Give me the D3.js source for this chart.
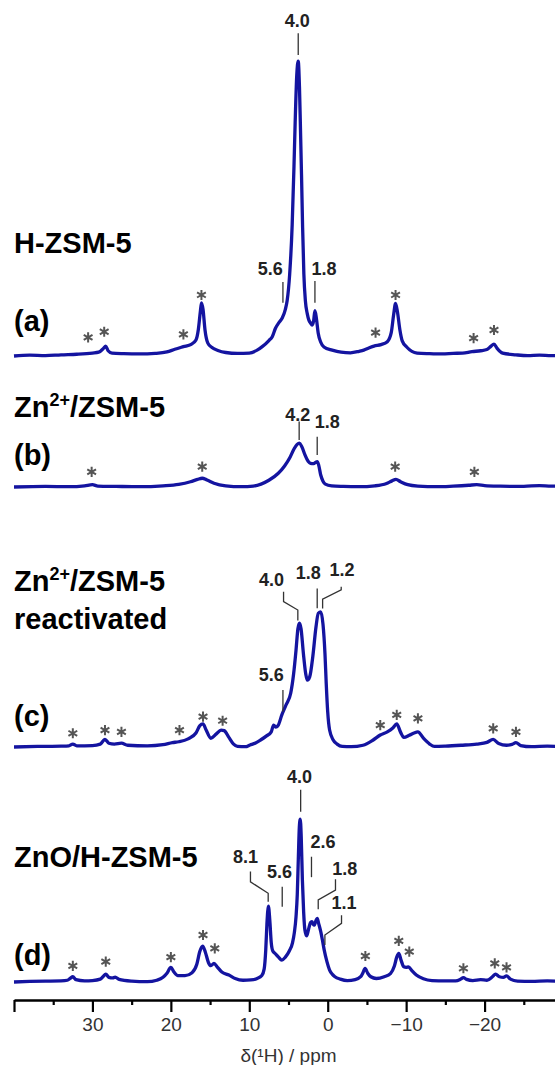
<!DOCTYPE html>
<html>
<head>
<meta charset="utf-8">
<script src="https://cdn.jsdelivr.net/npm/d3@7"></script>
<style>
  body { margin: 0; background: #fff; }
  text { font-family: "Liberation Sans", Arial, sans-serif; }
</style>
</head>
<body>
<div id="chart"></div>
<script>
// axis ticks (ppm)
const xTicks = [40, 30, 20, 10, 0, -10, -20, -30];
const xMinorTicks = [35, 25, 15, 5, -5, -15, -25];

// spectra: [ppm, intensity] (a.u., H-ZSM-5 main peak ~100)
const specA = [[40,0],[38,0.3],[36,0.1],[34,0.4],[32,0.6],[30,1.0],[29.2,1.3],[28.6,2.6],[28.3,3.4],[28.0,1.8],[27.5,1.0],[26,0.8],[24,0.7],[22,0.9],[20.5,1.4],[19.5,2.3],[18.4,3.2],[17.4,4.0],[16.8,5.5],[16.5,9],[16.25,15],[16.1,18.2],[15.9,16],[15.65,9],[15.3,4.5],[14.8,3.0],[14,1.9],[13,1.2],[11.5,0.9],[10,1.0],[9,2.0],[8.35,3.2],[7.5,5.3],[7.07,6.6],[6.66,9.5],[6.2,11.5],[5.8,13],[5.4,16],[5.17,19],[4.85,28],[4.53,45],[4.3,65],[4.15,80],[3.95,96],[3.76,101],[3.6,92],[3.45,75],[3.34,62],[3.2,44],[3.04,28],[2.85,19],[2.61,14.5],[2.4,12.3],[2.19,11.3],[1.98,10.6],[1.8,12],[1.63,15.5],[1.45,13],[1.21,7.8],[0.9,4.8],[0.48,3.1],[-0.57,2.0],[-1.7,1.3],[-2.9,1.1],[-4.0,1.6],[-4.6,2.0],[-5.3,2.8],[-5.9,3.4],[-6.8,3.9],[-7.6,4.9],[-8.1,8],[-8.4,14],[-8.65,18],[-8.9,15],[-9.2,9],[-9.5,5.2],[-10.1,3.0],[-11.4,1.0],[-13,0.8],[-14.6,0.7],[-16,0.9],[-17.2,1.0],[-18.4,1.5],[-19.5,1.8],[-20.3,2.2],[-20.8,3.3],[-21.2,4.1],[-21.6,2.6],[-22.3,1.0],[-24,0.4],[-25.5,0.1],[-27,0.3],[-28.5,0.1],[-30,0.2]];
const specB = [[40,0],[36,0.2],[33,0.1],[31,0.4],[30,0.8],[29.3,0.3],[27,0.2],[24,0.1],[21,0.4],[19,0.9],[17.5,1.8],[16.6,2.6],[16.0,3.0],[15.4,2.4],[14.5,1.3],[13,0.4],[11,0.1],[9.5,0.3],[8.5,1.0],[7.5,2.3],[6.3,4.7],[5.5,7.2],[4.8,10.2],[4.3,13],[3.9,14.6],[3.6,15.0],[3.3,13.8],[2.9,11],[2.5,8.8],[2.2,8.1],[1.8,8.0],[1.5,8.5],[1.34,8.7],[1.15,7.5],[0.9,4.2],[0.6,2.0],[0.3,1.0],[-0.5,0.4],[-2,0.2],[-4,0.1],[-6,0.4],[-7.5,1.2],[-8.2,2.1],[-8.7,2.6],[-9.3,1.8],[-10.2,0.8],[-11.5,0.3],[-14,0.1],[-16,0.3],[-18,0.6],[-19,0.8],[-20,0.5],[-22,0.3],[-25,0.2],[-27,0.5],[-28.5,0.3],[-30,0.3]];
const specC = [[40,0],[37,0.2],[34,0.3],[33,0.4],[32.5,1.0],[32,0.4],[30,0.5],[29,1.0],[28.4,2.6],[27.9,1.3],[27.2,1.0],[26.3,1.3],[25.5,0.6],[23,0.4],[21,0.8],[19.8,1.5],[19,1.8],[17.8,2.8],[16.8,4.8],[16.3,7.3],[15.9,7.9],[15.5,5.8],[14.9,3.0],[14.2,4.5],[13.6,5.8],[13.2,5.6],[12.6,3.3],[12.0,1.0],[11.5,0.2],[10.5,0.1],[9.9,0.7],[9.2,1.4],[8.56,2.4],[7.8,3.8],[7.2,5.2],[6.9,7.5],[6.6,6.8],[6.3,7.5],[5.85,11],[5.3,14.5],[4.72,18.4],[4.35,25],[4.04,33.2],[3.8,40.5],[3.6,42.4],[3.4,40.5],[3.1,32],[2.8,25],[2.6,22.9],[2.3,24],[1.9,31],[1.5,41],[1.2,45.8],[0.88,46.3],[0.6,42],[0.35,32],[0.19,21.8],[0,12],[-0.24,5.8],[-0.7,2.4],[-1.2,1.0],[-1.85,0.2],[-3,0.1],[-4.5,0.6],[-5.8,2.4],[-6.7,4.1],[-7.6,5.2],[-8.3,6.5],[-8.8,7.9],[-9.3,5.0],[-9.7,3.3],[-10.4,4.0],[-11.0,4.8],[-11.5,5.2],[-12.2,3.0],[-13.0,1.0],[-13.6,0.2],[-15,0.3],[-17,0.6],[-19,1.0],[-20.3,1.6],[-21.1,2.6],[-21.8,1.2],[-22.8,0.6],[-23.5,0.9],[-24,1.5],[-24.6,0.5],[-26,0.1],[-28,0.3],[-30,0.1]];
const specD = [[40,0],[38,0.2],[36,0.3],[34,0.4],[33.2,0.6],[32.8,1.3],[32.5,1.8],[32.1,0.8],[31,0.4],[30,0.5],[29,1.0],[28.6,2.0],[28.3,2.7],[27.9,1.6],[27.4,1.4],[27.1,1.7],[26.6,0.9],[25,0.3],[23,0.1],[21.8,0.6],[21,1.6],[20.5,3.0],[20.0,5.0],[19.6,3.4],[19.1,2.2],[18.2,2.2],[17.3,3.2],[16.7,6],[16.3,10.5],[15.95,12.3],[15.6,10.2],[15.2,6.6],[14.9,5.6],[14.5,6.4],[14.1,5.2],[13.5,3.4],[12.6,2.4],[11.8,1.2],[10.8,0.6],[9.8,0.7],[9.0,1.2],[8.4,2.2],[8.1,4.5],[7.9,11],[7.75,20],[7.56,26],[7.38,21],[7.2,13.5],[7.0,10.6],[6.75,9.9],[6.3,8.6],[5.85,7.5],[5.4,8.5],[4.9,10.6],[4.49,13.4],[4.25,17],[4.04,22.4],[3.88,30],[3.75,42],[3.62,53],[3.5,55.8],[3.38,50],[3.23,35],[3.07,24],[2.91,17.8],[2.69,15.8],[2.45,18],[2.2,20.3],[2.02,20.7],[1.85,19.8],[1.7,19.5],[1.5,21],[1.34,21.8],[1.15,20],[0.88,17.2],[0.65,14],[0.45,11],[0.1,7],[-0.24,4.1],[-0.6,2.6],[-0.92,1.8],[-1.6,1.0],[-2.5,0.5],[-3.5,0.8],[-4.2,1.8],[-4.5,3.2],[-4.76,4.7],[-5.1,3.0],[-5.5,1.8],[-6.2,1.2],[-7.2,1.8],[-8.0,2.9],[-8.5,5.5],[-8.8,8.5],[-9.06,9.8],[-9.35,7.5],[-9.7,5.2],[-10.0,5.0],[-10.3,5.2],[-10.7,4.0],[-11.3,2.4],[-12.2,1.1],[-13.3,0.5],[-15,0.4],[-16.3,0.4],[-16.9,0.9],[-17.3,1.5],[-17.7,0.9],[-18.5,0.5],[-19.5,0.8],[-20.3,0.6],[-21,1.8],[-21.4,2.7],[-21.9,1.8],[-22.4,1.6],[-22.8,2.1],[-23.3,1.0],[-24.2,0.3],[-26,0.2],[-28,0.4],[-30,0.1]];

// spinning sideband markers: [ppm, height]
const starsA = [[30.55,6.4],[28.5,8.3],[18.4,7.4],[16.1,20.9],[-6.1,8.0],[-8.65,20.9],[-18.6,6.1],[-21.2,8.9]];
const starsB = [[30.1,5.2],[16.0,7.0],[-8.6,7.0],[-18.7,5.2]];
const starsC = [[32.5,4.7],[28.4,5.8],[26.3,5.2],[18.9,5.8],[15.9,10.4],[13.4,9.0],[-6.7,7.5],[-8.8,11.0],[-11.5,9.8],[-21.1,6.4],[-24.0,5.2]];
const starsD = [[32.5,5.5],[28.3,7.0],[20.0,8.5],[15.9,16.1],[14.4,11.5],[-4.8,8.9],[-9.06,14.1],[-10.4,10.4],[-17.3,4.7],[-21.3,6.4],[-22.8,5.0]];

// peak labels: text, label centre [ppm, height], leader [[ppm, height], ...]
const annA = [
  { text: "4.0", at: [3.89, 114.8], path: [[3.76, 110.5], [3.76, 103.1]] },
  { text: "5.6", at: [7.33, 29.8], path: [[5.71, 25.3], [5.71, 18.2]] },
  { text: "1.8", at: [0.48, 29.8], path: [[1.63, 25.7], [1.63, 18.2]] }
];
const annB = [
  { text: "4.2", at: [3.81, 24.7], path: [[3.64, 22.4], [3.64, 16.1]] },
  { text: "1.8", at: [0.06, 22.4], path: [[1.34, 17.2], [1.34, 11.0]] }
];
const annC = [
  { text: "4.0", at: [7.16, 57.2], path: [[5.63, 53.2], [5.63, 49.8], [3.81, 46.9], [3.81, 43.3]] },
  { text: "1.8", at: [2.49, 59.5], path: [[1.34, 54.3], [1.34, 47.5]] },
  { text: "1.2", at: [-1.82, 60.6], path: [[-1.72, 54.9], [-1.72, 53.8], [0.65, 50.6], [0.65, 47.4]] },
  { text: "5.6", at: [7.21, 24.7], path: [[5.71, 19.5], [5.71, 12.1]] }
];
const annD = [
  { text: "4.0", at: [3.6, 70.2], path: [[3.45, 65.8], [3.45, 58.3]] },
  { text: "8.1", at: [10.49, 42.9], path: [[9.85, 37.8], [9.85, 34.3], [7.59, 30.4], [7.59, 27.5]] },
  { text: "5.6", at: [6.15, 37.8], path: [[5.8, 32.6], [5.8, 25.8]] },
  { text: "2.6", at: [0.61, 48.0], path: [[2.07, 42.9], [2.07, 35.9]] },
  { text: "1.8", at: [-2.19, 38.6], path: [[-0.99, 35.2], [-0.99, 31.5], [1.21, 28.1], [1.21, 24.9]] },
  { text: "1.1", at: [-2.07, 27.0], path: [[-1.76, 22.9], [-1.76, 20.1], [0.36, 16.1], [0.36, 12.7]] }
];

const width = 555, height = 1065;
const lineColor = "#1414a0";

const panels = [
  { spec: specA, stars: starsA, ann: annA, base: 356, tag: "(a)", tagY: 331,
    names: [{ y: 253, parts: [["H-ZSM-5"]] }] },
  { spec: specB, stars: starsB, ann: annB, base: 487, tag: "(b)", tagY: 465,
    names: [{ y: 417, parts: [["Zn"], ["2+", "sup"], ["/ZSM-5"]] }] },
  { spec: specC, stars: starsC, ann: annC, base: 747, tag: "(c)", tagY: 726,
    names: [{ y: 591, parts: [["Zn"], ["2+", "sup"], ["/ZSM-5"]] }, { y: 629, parts: [["reactivated"]] }] },
  { spec: specD, stars: starsD, ann: annD, base: 982, tag: "(d)", tagY: 965,
    names: [{ y: 867, parts: [["ZnO/H-ZSM-5"]] }] }
];

const svg = d3.select("#chart").append("svg")
  .attr("width", width)
  .attr("height", height)
  .style("display", "block");

svg.append("rect").attr("width", width).attr("height", height).attr("fill", "#fff");

const x = d3.scaleLinear().domain([40, -30]).range([14, 563]);
const h = d3.scaleLinear().domain([0, 100]).range([0, 292]);

const star = d3.symbol().type(d3.symbolAsterisk).size(72);

panels.forEach((p) => {
  const g = svg.append("g");
  const yOf = (v) => p.base - h(v);

  const line = d3.line()
    .x((d) => x(d[0]))
    .y((d) => yOf(d[1]))
    .curve(d3.curveMonotoneX);

  g.append("path")
    .datum(p.spec)
    .attr("d", line)
    .attr("fill", "none")
    .attr("stroke", lineColor)
    .attr("stroke-width", 3.3)
    .attr("stroke-linejoin", "round");

  // sideband asterisks
  g.selectAll("path.star")
    .data(p.stars)
    .enter()
    .append("path")
    .attr("class", "star")
    .attr("d", star)
    .attr("transform", (d) => `translate(${x(d[0])},${yOf(d[1])})`)
    .attr("fill", "none")
    .attr("stroke", "#555")
    .attr("stroke-width", 2);

  // peak labels + leader lines
  const leader = d3.line().x((d) => x(d[0])).y((d) => yOf(d[1]));
  p.ann.forEach((a) => {
    g.append("path")
      .attr("d", leader(a.path))
      .attr("fill", "none")
      .attr("stroke", "#333")
      .attr("stroke-width", 1.3);
    g.append("text")
      .attr("x", x(a.at[0]))
      .attr("y", yOf(a.at[1]))
      .attr("text-anchor", "middle")
      .attr("dominant-baseline", "central")
      .style("font-size", "18px")
      .style("font-weight", "bold")
      .attr("fill", "#222")
      .text(a.text);
  });

  // sample names
  p.names.forEach((n) => {
    const t = g.append("text")
      .attr("x", 14)
      .attr("y", n.y)
      .style("font-size", "29px")
      .style("font-weight", "bold")
      .attr("fill", "#000");
    n.parts.forEach((part) => {
      if (part[1] === "sup") {
        t.append("tspan").attr("dy", -11).style("font-size", "18px").text(part[0]);
      } else {
        const ts = t.append("tspan").text(part[0]);
        if (t.selectAll("tspan").size() > 1) ts.attr("dy", 11);
      }
    });
  });

  g.append("text")
    .attr("x", 14)
    .attr("y", p.tagY)
    .style("font-size", "29px")
    .style("font-weight", "bold")
    .attr("fill", "#000")
    .text(p.tag);
});

// x axis
const axisY = 1000;
const fmt = d3.format("d");
const axis = svg.append("g")
  .attr("transform", `translate(0,${axisY})`)
  .call(
    d3.axisBottom(x)
      .tickValues(xTicks)
      .tickSize(12)
      .tickSizeOuter(0)
      .tickPadding(6)
      .tickFormat((d) => (d === 40 || d === -30 ? "" : fmt(d)))
  );
axis.select(".domain").attr("stroke", "#000").attr("stroke-width", 2.5);
axis.selectAll(".tick line").attr("stroke", "#000").attr("stroke-width", 2.2);
axis.selectAll(".tick text")
  .style("font-size", "19px")
  .style("font-family", '"Liberation Sans", Arial, sans-serif')
  .attr("fill", "#333");

const minor = svg.append("g")
  .attr("transform", `translate(0,${axisY})`)
  .call(d3.axisBottom(x).tickValues(xMinorTicks).tickSize(5).tickFormat(""));
minor.select(".domain").remove();
minor.selectAll(".tick line").attr("stroke", "#000").attr("stroke-width", 2.2);

svg.append("text")
  .attr("x", (x(40) + x(-30)) / 2)
  .attr("y", 1062)
  .attr("text-anchor", "middle")
  .style("font-size", "19px")
  .attr("fill", "#333")
  .text("δ(¹H) / ppm");
</script>
</body>
</html>
